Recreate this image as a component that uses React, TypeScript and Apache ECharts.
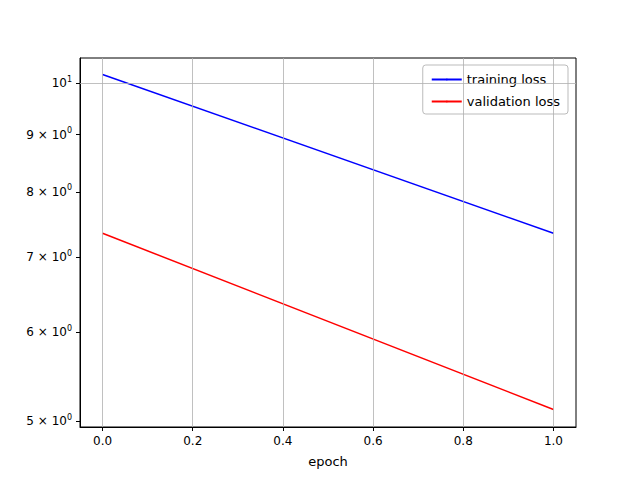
import { useEffect, useRef } from 'react'
import * as echarts from 'echarts'

const epochs = [0, 1]
const trainingLoss = [10.18, 7.35]
const validationLoss = [7.35, 5.12]
const yTicks = [5, 6, 7, 8, 9, 10]
const xTicks = [0, 0.2, 0.4, 0.6, 0.8, 1.0]

const FONT = 'DejaVu Sans'

export default function App() {
  const ref = useRef<HTMLDivElement>(null)

  useEffect(() => {
    if (!ref.current) return
    const chart = echarts.init(ref.current, undefined, { renderer: 'svg' })
    const lg = (v: number) => Math.log10(v)
    const option: echarts.EChartsOption = {
      animation: false,
      textStyle: { fontFamily: FONT },
      grid: { left: 80, right: 64, top: 58, bottom: 53, show: true, borderColor: '#000', borderWidth: 1 },
      legend: {
        orient: 'vertical',
        right: 72,
        top: 65,
        itemWidth: 30,
        itemHeight: 2,
        itemGap: 9,
        padding: [8, 8, 6, 8],
        borderColor: '#bbb',
        borderWidth: 1,
        borderRadius: 3,
        backgroundColor: 'rgba(255,255,255,0.8)',
        textStyle: { fontSize: 13, color: '#000', fontFamily: FONT },
        data: ['training loss', 'validation loss'],
      },
      xAxis: {
        type: 'value',
        min: -0.05,
        max: 1.05,
        name: 'epoch',
        nameLocation: 'middle',
        nameGap: 28,
        nameTextStyle: { fontSize: 13, color: '#000', fontFamily: FONT },
        axisLine: { show: true, onZero: false, lineStyle: { color: '#000' } },
        axisTick: { show: true, customValues: xTicks, length: 4, lineStyle: { color: '#000' } },
        axisLabel: {
          customValues: xTicks,
          fontSize: 12,
          color: '#000',
          fontFamily: FONT,
          formatter: (v: number) => v.toFixed(1),
        },
        splitLine: { show: false },
      },
      yAxis: {
        type: 'value',
        min: lg(4.94),
        max: lg(10.53),
        axisLine: { show: true, onZero: false, lineStyle: { color: '#000' } },
        axisTick: { show: true, customValues: yTicks.map(lg), length: 4, lineStyle: { color: '#000' } },
        axisLabel: {
          customValues: yTicks.map(lg),
          fontSize: 12,
          color: '#000',
          fontFamily: FONT,
          formatter: (v: number) => {
            const n = Math.round(Math.pow(10, v))
            return n === 10 ? '10{s|1}' : `${n} \u00d7 10{s|0}`
          },
          rich: { s: { fontSize: 8, verticalAlign: 'top', padding: [0, 0, 8, 0], color: '#000', fontFamily: FONT } },
        },
        splitLine: { show: false },
      },
      series: [
        {
          name: 'grid',
          type: 'line',
          data: [],
          silent: true,
          markLine: {
            silent: true,
            symbol: 'none',
            label: { show: false },
            lineStyle: { color: '#b0b0b0', type: 'solid', width: 0.8 },
            data: [...xTicks.map((x) => ({ xAxis: x })), { yAxis: lg(10) }],
          },
        },
        {
          name: 'training loss',
          type: 'line',
          symbol: 'none',
          color: '#0000ff',
          lineStyle: { width: 1.5 },
          data: epochs.map((e, i) => [e, lg(trainingLoss[i])]),
        },
        {
          name: 'validation loss',
          type: 'line',
          symbol: 'none',
          color: '#ff0000',
          lineStyle: { width: 1.5 },
          data: epochs.map((e, i) => [e, lg(validationLoss[i])]),
        },
      ],
    }
    chart.setOption(option)
    return () => chart.dispose()
  }, [])

  return <div ref={ref} style={{ width: 640, height: 480, margin: -8 }} />
}
